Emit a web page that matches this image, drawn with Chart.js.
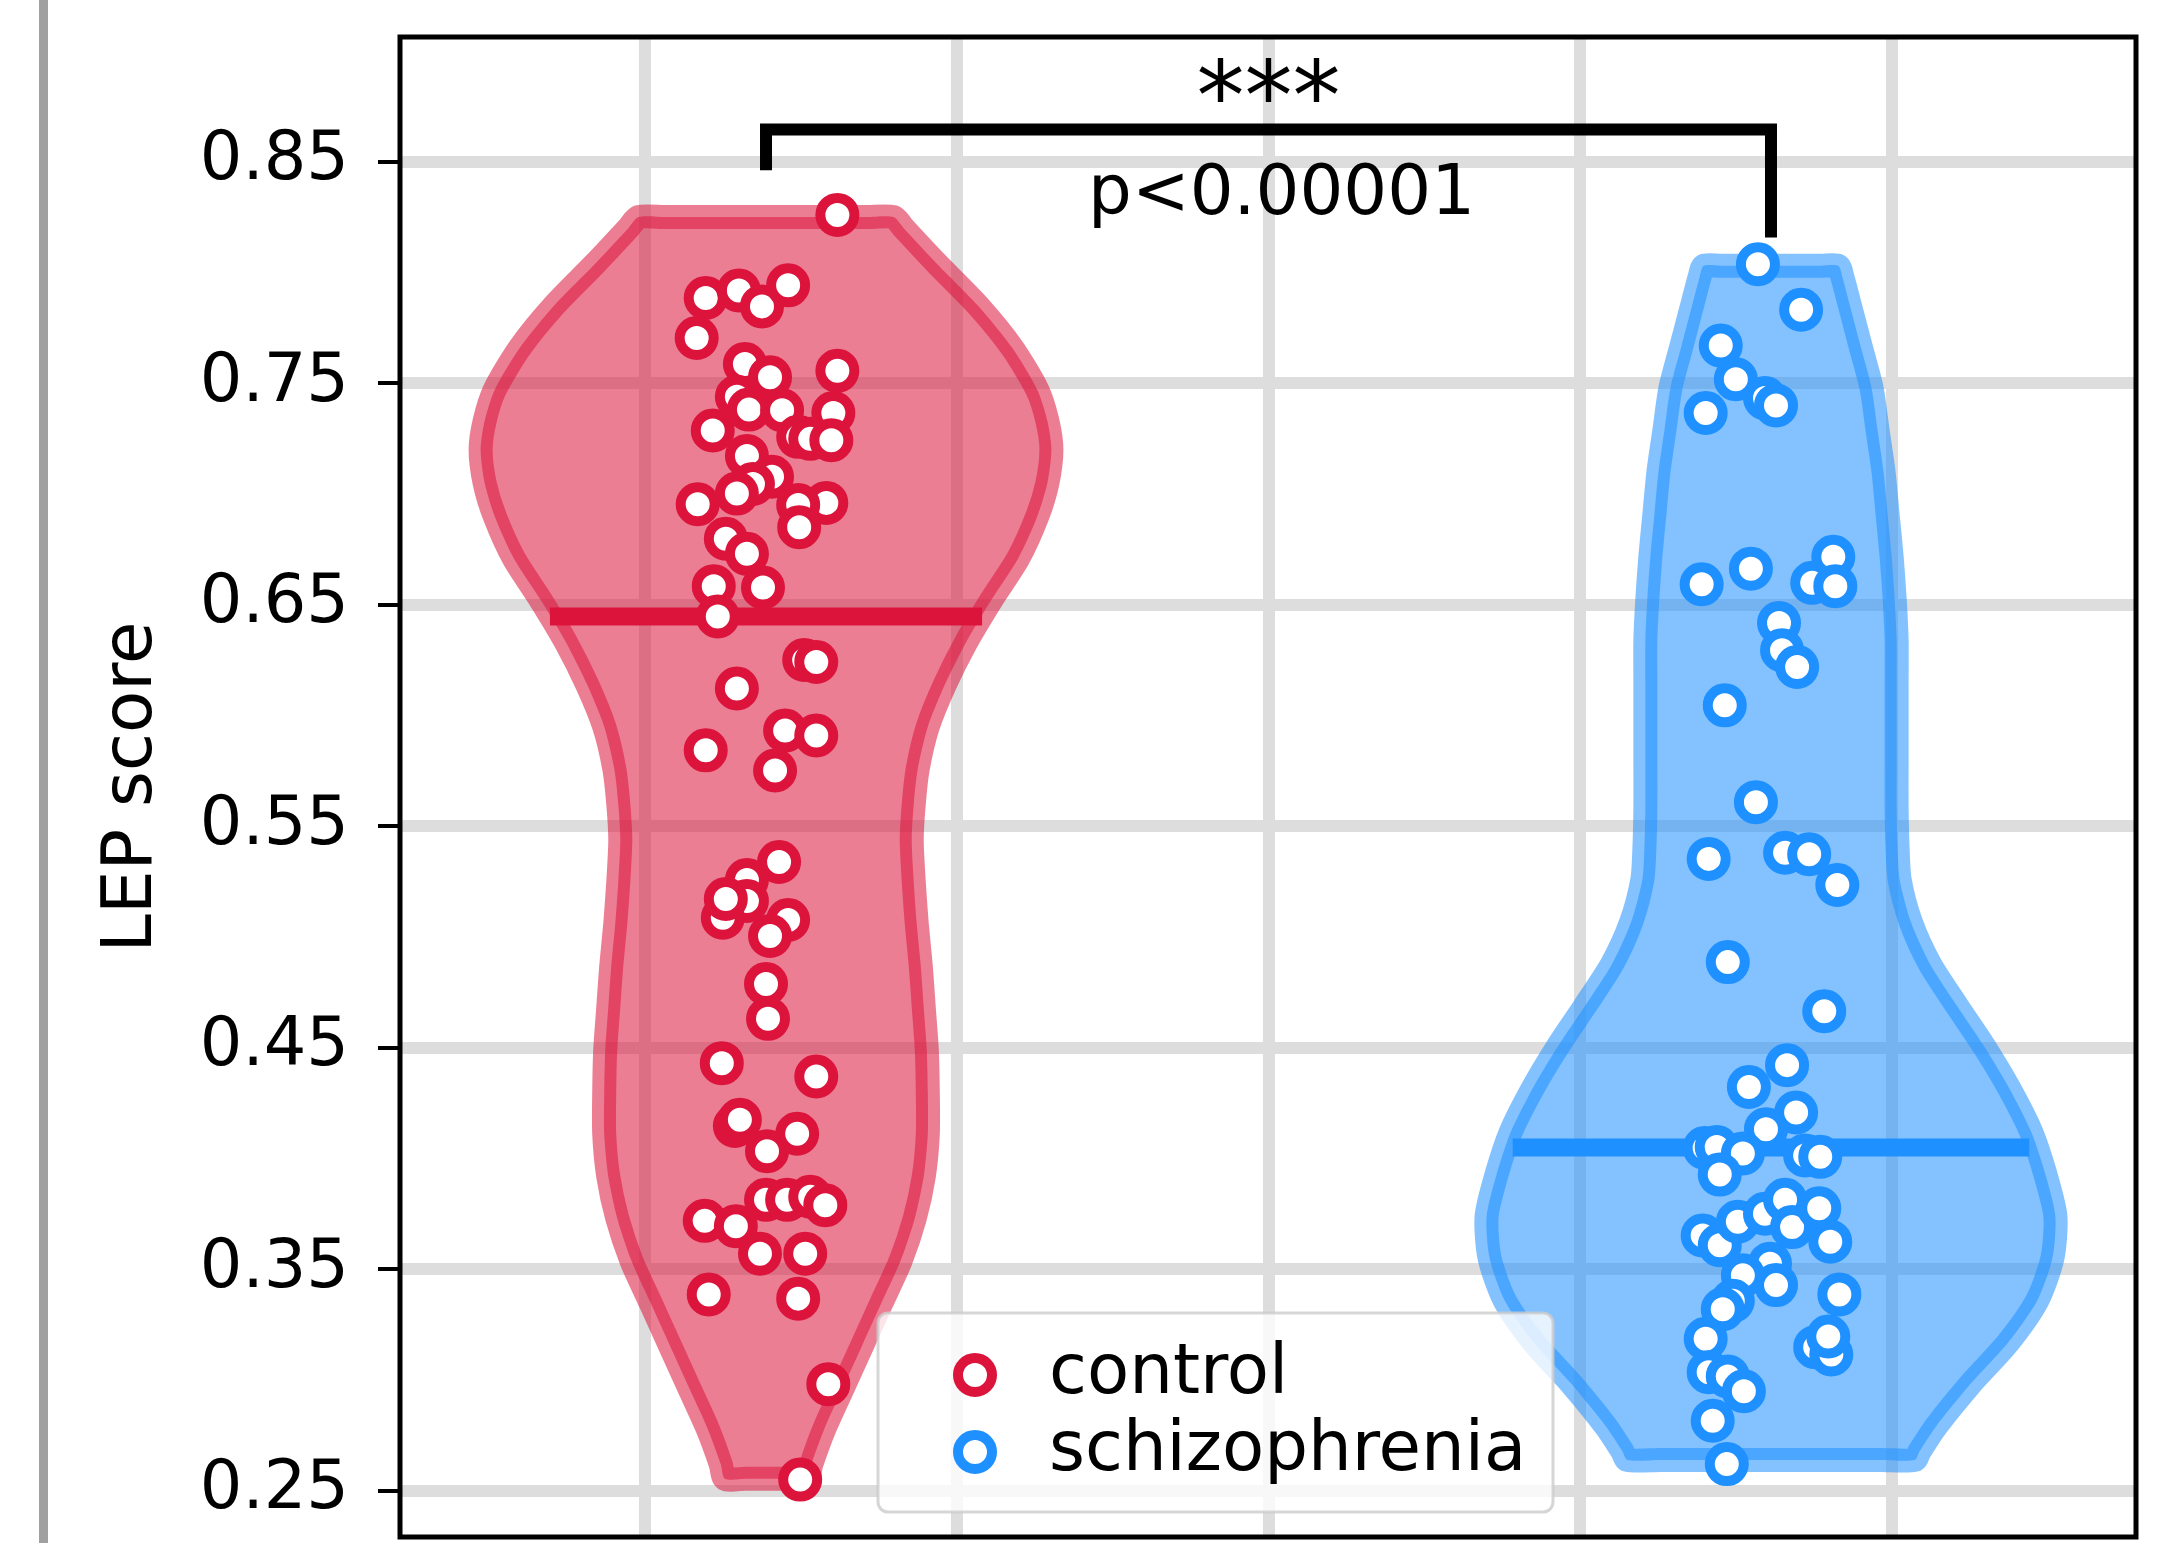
<!DOCTYPE html>
<html lang="en">
<head>
    <meta charset="UTF-8" />
    <title>LEP score by group</title>
    <script src="https://cdn.jsdelivr.net/npm/chart.js"></script>
    <style>
        html, body {
            margin: 0;
            padding: 0;
            background: #fff;
            overflow: hidden;
        }
        #wrap {
            position: relative;
            width: 2165px;
            height: 1543px;
        }
    </style>
</head>
<body>
<div id="wrap"><canvas id="lepChart"></canvas></div>
<script>
// groups and where they sit on the x axis
var groups = ['control', 'schizophrenia'];
var groupPositions = [0, 1];
var groupColors = ['220, 20, 60', '30, 144, 255'];

// axis ticks / grid
var yTicks = [0.25, 0.35, 0.45, 0.55, 0.65, 0.75, 0.85];
var xGrid = [-0.12, 0.19, 0.5, 0.81, 1.12];

// medians and how far the median bar reaches each side
var medians = [0.6447, 0.405];
var medianHalfWidths = [0.215, 0.257];

// violin outlines: score level -> half width
var controlLevels = [0.825, 0.825, 0.820, 0.804, 0.785, 0.766, 0.747, 0.733, 0.720, 0.705, 0.690,
    0.671, 0.652, 0.633, 0.614, 0.595, 0.576, 0.560, 0.544, 0.525, 0.506, 0.487, 0.468, 0.449,
    0.430, 0.411, 0.392, 0.373, 0.354, 0.335, 0.316, 0.297, 0.278, 0.262, 0.2555, 0.2555];
var controlHalfWidths = [0.100, 0.127, 0.137, 0.170, 0.211, 0.245, 0.270, 0.280, 0.284, 0.280, 0.270,
    0.251, 0.224, 0.199, 0.178, 0.161, 0.151, 0.147, 0.145, 0.147, 0.150, 0.154, 0.157, 0.160,
    0.161, 0.161, 0.157, 0.148, 0.134, 0.115, 0.096, 0.077, 0.058, 0.045, 0.041, 0.020];

var schizLevels = [0.803, 0.803, 0.798, 0.786, 0.767, 0.748, 0.729, 0.710, 0.691, 0.672, 0.653,
    0.634, 0.615, 0.596, 0.577, 0.558, 0.540, 0.526, 0.507, 0.488, 0.469, 0.450, 0.431, 0.412,
    0.393, 0.374, 0.355, 0.336, 0.317, 0.298, 0.279, 0.268, 0.264, 0.264];
var schizHalfWidths = [0.050, 0.067, 0.071, 0.078, 0.089, 0.100, 0.106, 0.112, 0.116, 0.120, 0.123,
    0.125, 0.125, 0.125, 0.125, 0.125, 0.126, 0.128, 0.139, 0.158, 0.185, 0.213, 0.238, 0.259,
    0.273, 0.283, 0.280, 0.265, 0.236, 0.198, 0.164, 0.148, 0.143, 0.110];

// individual subjects (score, horizontal jitter)
var controlScores = [0.826, 0.7885, 0.7919, 0.7847, 0.7942, 0.7704, 0.7587, 0.7527, 0.7556, 0.7439,
    0.7381, 0.7378, 0.7366, 0.7287, 0.7258, 0.7249, 0.7243, 0.7172, 0.7078, 0.7045, 0.7002, 0.6954,
    0.6960, 0.695, 0.685, 0.6798, 0.673, 0.6584, 0.6578, 0.6447, 0.6251, 0.6242, 0.6122, 0.5932,
    0.5910, 0.5843, 0.5752, 0.5339, 0.5258, 0.5163, 0.5087, 0.5172, 0.5077, 0.5005, 0.4788, 0.4631,
    0.4431, 0.4371, 0.4147, 0.4175, 0.4112, 0.4033, 0.3814, 0.3814, 0.3828, 0.3790, 0.3719, 0.3695,
    0.3571, 0.3571, 0.3387, 0.3368, 0.2982, 0.2551];
var controlJitter = [0.071, -0.060, -0.027, -0.004, 0.022, -0.069, -0.021, 0.004, 0.071, -0.029,
    -0.017, 0.016, 0.067, -0.053, 0.032, 0.044, 0.065, -0.019, 0.006, -0.013, -0.029, -0.068,
    0.060, 0.032, 0.033, -0.040, -0.019, -0.052, -0.003, -0.048, 0.038, 0.050, -0.029, 0.019,
    0.050, -0.060, 0.009, 0.013, -0.019, -0.019, -0.043, -0.040, 0.022, 0.004, 0.000, 0.002,
    -0.044, 0.050, -0.031, -0.026, 0.031, 0.001, 0.000, 0.021, 0.044, 0.059, -0.061, -0.030,
    -0.006, 0.039, -0.057, 0.032, 0.062, 0.034];

var schizScores = [0.8037, 0.7832, 0.767, 0.7518, 0.7433, 0.740, 0.7366, 0.6593, 0.6663, 0.6717,
    0.6599, 0.6584, 0.6418, 0.6295, 0.6219, 0.6046, 0.5609, 0.5353, 0.5381, 0.5374, 0.5235, 0.4887,
    0.4665, 0.4422, 0.4323, 0.4208, 0.4133, 0.4048, 0.4052, 0.4023, 0.3928, 0.4014, 0.4008, 0.3653,
    0.3609, 0.3715, 0.3751, 0.3814, 0.3691, 0.3776, 0.3625, 0.3526, 0.3429, 0.3473, 0.3358, 0.3320,
    0.3387, 0.3187, 0.3149, 0.3116, 0.3197, 0.3036, 0.3017, 0.2950, 0.2817, 0.2621];
var schizJitter = [-0.013, 0.030, -0.050, -0.035, -0.006, 0.005, -0.065, -0.069, -0.020, 0.062,
    0.041, 0.064, 0.008, 0.011, 0.026, -0.046, -0.015, -0.062, 0.014, 0.038, 0.066, -0.043,
    0.053, 0.016, -0.022, 0.025, -0.005, -0.066, -0.054, -0.028, -0.051, 0.034, 0.049, -0.068,
    -0.051, -0.033, -0.006, 0.014, 0.021, 0.048, 0.059, -0.001, 0.005, -0.028, -0.038, -0.048,
    0.068, -0.065, 0.044, 0.060, 0.057, -0.062, -0.043, -0.027, -0.058, -0.044];

// significance bracket: left leg end, bar height, right leg end
var bracketY = [0.8462, 0.8646, 0.8158];
var sigLabels = ['***', 'p<0.00001'];

Chart.defaults.font.family = '"DejaVu Sans", sans-serif';

function violinOutline(pos, levels, halfWidths) {
    var right = [];
    var left = [];
    for (var i = 0; i < levels.length; i++) {
        right.push({ x: pos + halfWidths[i], y: levels[i] });
        left.unshift({ x: pos - halfWidths[i], y: levels[i] });
    }
    // start and end in the middle of the flat top so the stroke joins cleanly
    var top = { x: pos, y: levels[0] };
    return [top].concat(right, left, [top]);
}

function subjects(pos, scores, jitter) {
    return scores.map(function (v, i) {
        return { x: pos + jitter[i], y: v };
    });
}

var outlines = [
    violinOutline(groupPositions[0], controlLevels, controlHalfWidths),
    violinOutline(groupPositions[1], schizLevels, schizHalfWidths)
];
var points = [
    subjects(groupPositions[0], controlScores, controlJitter),
    subjects(groupPositions[1], schizScores, schizJitter)
];

var datasets = [];
groups.forEach(function (g, i) {
    var rgb = groupColors[i];
    datasets.push({
        label: g + ' violin',
        data: outlines[i],
        showLine: true,
        fill: 'shape',
        backgroundColor: 'rgba(' + rgb + ', 0.55)',
        borderColor: 'rgba(' + rgb + ', 0.55)',
        borderWidth: 24,
        borderJoinStyle: 'round',
        borderCapStyle: 'butt',
        tension: 0.25,
        pointRadius: 0,
        order: 3
    });
    datasets.push({
        label: g + ' median',
        data: [
            { x: groupPositions[i] - medianHalfWidths[i], y: medians[i] },
            { x: groupPositions[i] + medianHalfWidths[i], y: medians[i] }
        ],
        showLine: true,
        borderColor: 'rgb(' + rgb + ')',
        borderWidth: 18,
        borderCapStyle: 'butt',
        pointRadius: 0,
        order: 2
    });
    datasets.push({
        label: g,
        isSubjects: true,
        data: points[i],
        showLine: false,
        pointRadius: 17,
        pointBorderWidth: 10,
        pointBackgroundColor: '#ffffff',
        pointBorderColor: 'rgb(' + rgb + ')',
        borderColor: 'rgb(' + rgb + ')',
        backgroundColor: '#ffffff',
        order: 1
    });
});

datasets.push({
    label: 'bracket',
    data: [
        { x: groupPositions[0], y: bracketY[0] },
        { x: groupPositions[0], y: bracketY[1] },
        { x: groupPositions[1], y: bracketY[1] },
        { x: groupPositions[1], y: bracketY[2] }
    ],
    showLine: true,
    borderColor: '#000000',
    borderWidth: 12,
    borderJoinStyle: 'miter',
    borderCapStyle: 'butt',
    pointRadius: 0,
    order: 0
});

function roundedRect(ctx, x, y, w, h, r) {
    ctx.beginPath();
    ctx.moveTo(x + r, y);
    ctx.arcTo(x + w, y, x + w, y + h, r);
    ctx.arcTo(x + w, y + h, x, y + h, r);
    ctx.arcTo(x, y + h, x, y, r);
    ctx.arcTo(x, y, x + w, y, r);
    ctx.closePath();
}

// page frame line, legend, spines and the significance labels
var decorations = {
    id: 'decorations',
    beforeDraw: function (chart) {
        var ctx = chart.ctx;
        ctx.save();
        ctx.fillStyle = '#ffffff';
        ctx.fillRect(0, 0, chart.width, chart.height);
        ctx.fillStyle = '#a0a0a0';
        ctx.fillRect(39, 0, 9, chart.height);
        ctx.restore();
    },
    afterDatasetsDraw: function (chart) {
        var ctx = chart.ctx;
        var area = chart.chartArea;
        var xs = chart.scales.x;
        var ys = chart.scales.y;
        ctx.save();

        // legend
        var bx = area.left + 478, by = area.top + 1276, bw = 675, bh = 199;
        roundedRect(ctx, bx, by, bw, bh, 10);
        ctx.fillStyle = 'rgba(255, 255, 255, 0.8)';
        ctx.fill();
        ctx.lineWidth = 3;
        ctx.strokeStyle = 'rgba(204, 204, 204, 0.8)';
        ctx.stroke();
        var items = chart.data.datasets.filter(function (d) { return d.isSubjects; });
        ctx.font = '69px "DejaVu Sans"';
        ctx.textBaseline = 'middle';
        ctx.textAlign = 'left';
        items.forEach(function (d, i) {
            var cy = by + 62 + i * 77;
            ctx.beginPath();
            ctx.arc(bx + 97, cy, 17, 0, Math.PI * 2);
            ctx.fillStyle = '#ffffff';
            ctx.fill();
            ctx.lineWidth = 10;
            ctx.strokeStyle = d.pointBorderColor;
            ctx.stroke();
            ctx.fillStyle = '#000000';
            ctx.fillText(d.label, bx + 171, cy);
        });

        // spines
        ctx.lineWidth = 5;
        ctx.strokeStyle = '#000000';
        ctx.strokeRect(area.left, area.top, area.right - area.left, area.bottom - area.top);

        // significance labels
        ctx.fillStyle = '#000000';
        ctx.textAlign = 'center';
        ctx.textBaseline = 'alphabetic';
        ctx.font = '96px "DejaVu Sans"';
        var m = ctx.measureText(sigLabels[0]);
        var starY = ys.getPixelForValue(0.8871);
        ctx.fillText(sigLabels[0], xs.getPixelForValue(0.5),
            starY + (m.actualBoundingBoxAscent - m.actualBoundingBoxDescent) / 2);
        ctx.font = '69px "DejaVu Sans"';
        ctx.fillText(sigLabels[1], xs.getPixelForValue(0.513), ys.getPixelForValue(0.8266));

        ctx.restore();
    }
};

var ctx = document.getElementById('lepChart').getContext('2d');
var lepChart = new Chart(ctx, {
    type: 'scatter',
    data: { datasets: datasets },
    plugins: [decorations],
    options: {
        responsive: true,
        maintainAspectRatio: false,
        animation: false,
        events: [],
        layout: {
            autoPadding: false,
            padding: { left: 0, top: 37, right: 29, bottom: 6 }
        },
        plugins: {
            legend: { display: false },
            tooltip: { enabled: false }
        },
        scales: {
            x: {
                type: 'linear',
                min: -0.3642,
                max: 1.3632,
                afterBuildTicks: function (s) {
                    s.ticks = xGrid.map(function (v) { return { value: v }; });
                },
                afterFit: function (s) {
                    s.height = 0;
                    s.paddingLeft = 0;
                    s.paddingRight = 0;
                },
                ticks: { display: false },
                grid: { color: '#dddddd', lineWidth: 12, drawTicks: false },
                border: { display: false }
            },
            y: {
                type: 'linear',
                min: 0.2292,
                max: 0.9063,
                afterBuildTicks: function (s) {
                    s.ticks = yTicks.map(function (v) { return { value: v }; });
                },
                afterFit: function (s) {
                    s.width = 400;
                    s.paddingTop = 0;
                    s.paddingBottom = 0;
                },
                ticks: {
                    color: '#000000',
                    font: { size: 67 },
                    padding: 29,
                    callback: function (v) { return v.toFixed(2); }
                },
                grid: {
                    color: '#dddddd',
                    lineWidth: 12,
                    tickLength: 22,
                    tickColor: '#000000',
                    tickWidth: 4
                },
                border: { display: false },
                title: {
                    display: true,
                    text: 'LEP score',
                    color: '#000000',
                    font: { size: 69 },
                    padding: { top: 92, bottom: 0 }
                }
            }
        }
    }
});
</script>
</body>
</html>
